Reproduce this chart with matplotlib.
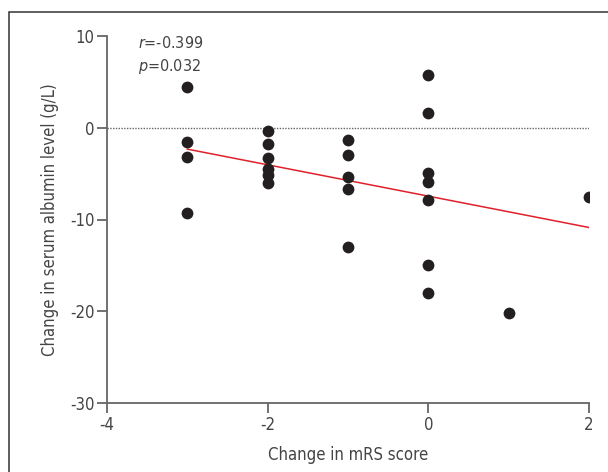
import matplotlib
matplotlib.use("Agg")
import matplotlib.pyplot as plt
from matplotlib import font_manager

# data
mrs_change = [-3, -3, -3, -3,
              -2, -2, -2, -2, -2, -2,
              -1, -1, -1, -1, -1,
              0, 0, 0, 0, 0, 0, 0,
              1, 2]
albumin_change = [4.4, -1.5, -3.2, -9.3,
                  -0.4, -1.8, -3.3, -4.5, -5.2, -6.0,
                  -1.3, -3.0, -5.4, -6.7, -13.0,
                  5.8, 1.6, -4.9, -5.9, -7.9, -15.0, -18.0,
                  -20.2, -7.6]
fit_x = [-3, 2]
fit_y = [-2.33, -10.87]
x_ticks = [-4, -2, 0, 2]
y_ticks = [-30, -20, -10, 0, 10]

# use the condensed DejaVu face if it is there
stretch = 'normal'
for f in font_manager.fontManager.ttflist:
    if f.name == 'DejaVu Sans' and f.stretch == 'condensed':
        stretch = 'condensed'
plt.rcParams['font.family'] = ['DejaVu Sans']
plt.rcParams['font.stretch'] = stretch

txt = '#444444'
fig = plt.figure(figsize=(6.08, 4.72), dpi=100)
ax = fig.add_axes([107 / 608, 1 - 403 / 472, (589 - 107) / 608, (403 - 36) / 472])

# frame around the figure (right and bottom edges fall outside)
fig.patches.append(plt.Rectangle((9 / 608, -0.1), 1.2, 1 - 12 / 472 + 0.1,
                                 transform=fig.transFigure, fill=False,
                                 edgecolor='#333333', linewidth=1.1))

ax.axhline(0, color='#666666', linestyle=(0, (1, 1)), linewidth=1.0, zorder=1)
ax.plot(fit_x, fit_y, color='#e0202a', linewidth=1.1, zorder=2)
ax.scatter(mrs_change, albumin_change, s=72, color='#231f20', zorder=3, linewidths=0)

ax.set_xlim(-4, 2)
ax.set_ylim(-30, 10)
ax.set_xticks(x_ticks)
ax.set_yticks(y_ticks)
ax.set_xticklabels([str(v) for v in x_ticks])
ax.set_yticklabels([str(v) for v in y_ticks])

for s in ['top', 'right']:
    ax.spines[s].set_visible(False)
for s in ['left', 'bottom']:
    ax.spines[s].set_color('#666666')
    ax.spines[s].set_linewidth(1.3)
ax.tick_params(direction='out', length=7, width=1.3, color='#666666',
               labelsize=12, labelcolor=txt, pad=2)

ax.set_xlabel('Change in mRS score', fontsize=12, color=txt, labelpad=9)
ax.set_ylabel('Change in serum albumin level (g/L)', fontsize=12, color=txt, labelpad=8)

ax.text(0.064, 0.982, r'$\it{r}$=-0.399', transform=ax.transAxes, fontsize=11.5,
        color=txt, va='center', ha='left')
ax.text(0.064, 0.917, r'$\it{p}$=0.032', transform=ax.transAxes, fontsize=11.5,
        color=txt, va='center', ha='left')

fig.savefig('out.png', dpi=100)
